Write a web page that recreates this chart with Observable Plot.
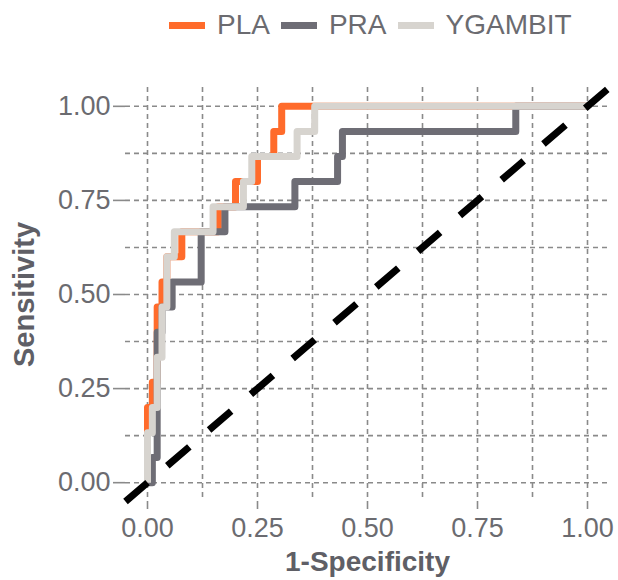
<!DOCTYPE html>
<html>
<head>
<meta charset="utf-8">
<script src="https://cdn.jsdelivr.net/npm/d3@7"></script>
<script src="https://cdn.jsdelivr.net/npm/@observablehq/plot@0.6"></script>
<style>
  html, body { margin: 0; padding: 0; background: #ffffff; }
  body { width: 618px; height: 580px; overflow: hidden; font-family: "Liberation Sans", Arial, sans-serif; }
  #legend { height: 50px; display: flex; align-items: center; padding-left: 169px; box-sizing: border-box; }
  .item { display: flex; align-items: center; margin-right: 11px; }
  .key { width: 36px; height: 7px; margin-right: 12px; }
  .lab { font-size: 28px; color: #6b6b70; line-height: 1; }
</style>
</head>
<body>
<div id="legend"></div>
<div id="chart"></div>
<script>
// Series
const series = ["PLA", "PRA", "YGAMBIT"];
const seriesColors = ["#FF6B2B", "#6E6D75", "#D7D4CF"];

// ROC points (1-Specificity, Sensitivity)
const plaFpr = [0, 0, 0.011, 0.022, 0.033, 0.044, 0.078, 0.161, 0.2, 0.25, 0.287, 0.305, 1];
const plaTpr = [0, 0.2, 0.267, 0.467, 0.533, 0.6, 0.667, 0.733, 0.8, 0.867, 0.933, 1, 1];

const praFpr = [0, 0.011, 0.022, 0.033, 0.056, 0.122, 0.176, 0.335, 0.432, 0.443, 0.837, 1];
const praTpr = [0, 0.067, 0.4, 0.467, 0.533, 0.667, 0.733, 0.8, 0.867, 0.933, 1, 1];

const ygFpr = [0, 0, 0.011, 0.022, 0.033, 0.044, 0.061, 0.149, 0.218, 0.237, 0.34, 0.38, 1];
const ygTpr = [0, 0.133, 0.2, 0.333, 0.467, 0.6, 0.667, 0.733, 0.8, 0.867, 0.933, 1, 1];

// Chance line end points
const chance = [-0.05, 1.05];

// Axis ticks
const majorTicks = [0, 0.25, 0.5, 0.75, 1];
const gridTicks = [0, 0.125, 0.25, 0.375, 0.5, 0.625, 0.75, 0.875, 1];
const xTitle = "1-Specificity";
const yTitle = "Sensitivity";

const rows = [];
[[plaFpr, plaTpr], [praFpr, praTpr], [ygFpr, ygTpr]].forEach(([xs, ys], i) => {
  xs.forEach((x, j) => rows.push({series: series[i], fpr: x, tpr: ys[j]}));
});

// Legend
const legend = document.getElementById("legend");
series.forEach((s, i) => {
  const item = document.createElement("div");
  item.className = "item";
  const key = document.createElement("div");
  key.className = "key";
  key.style.background = seriesColors[i];
  const lab = document.createElement("span");
  lab.className = "lab";
  lab.textContent = s;
  item.appendChild(key);
  item.appendChild(lab);
  legend.appendChild(item);
});

const gridStyle = {stroke: "#8a8a8a", strokeOpacity: 1, strokeWidth: 1.6, strokeDasharray: "5,4"};
const font = "Liberation Sans, Arial, sans-serif";

const chart = Plot.plot({
  width: 618,
  height: 530,
  marginLeft: 125,
  marginRight: 9,
  marginTop: 37,
  marginBottom: 79,
  style: {fontFamily: font, background: "#ffffff", overflow: "visible"},
  x: {domain: [-0.05, 1.05]},
  y: {domain: [-0.05, 1.05]},
  color: {domain: series, range: seriesColors},
  marks: [
    Plot.gridX(gridTicks, gridStyle),
    Plot.gridY(gridTicks, gridStyle),
    Plot.axisX(majorTicks, {tickFormat: d3.format(".2f"), tickSize: 8, tickPadding: 8, fontSize: 27,
      stroke: "#8a8a8a", strokeWidth: 1.6, fill: "#6b6b70", label: null}),
    Plot.axisY(majorTicks, {tickFormat: d3.format(".2f"), tickSize: 12, tickPadding: 3, fontSize: 27,
      stroke: "#8a8a8a", strokeWidth: 1.6, fill: "#6b6b70", label: null}),
    Plot.line(rows, {x: "fpr", y: "tpr", z: "series", stroke: "series", curve: "step-after",
      strokeWidth: 7, strokeLinecap: "butt", strokeLinejoin: "round"}),
    Plot.line(chance, {x: d => d, y: d => d, stroke: "#000000", strokeWidth: 7,
      strokeDasharray: "29,26", strokeLinecap: "butt"}),
    Plot.text([xTitle], {frameAnchor: "bottom", dy: 61, fontSize: 28, fontWeight: "bold",
      fill: "#5f5f66", lineAnchor: "middle", textAnchor: "middle", text: d => d}),
    Plot.text([yTitle], {frameAnchor: "left", dx: -101, rotate: -90, fontSize: 29, fontWeight: "bold",
      fill: "#5f5f66", lineAnchor: "middle", textAnchor: "middle", text: d => d})
  ]
});
document.getElementById("chart").appendChild(chart);
</script>
</body>
</html>
